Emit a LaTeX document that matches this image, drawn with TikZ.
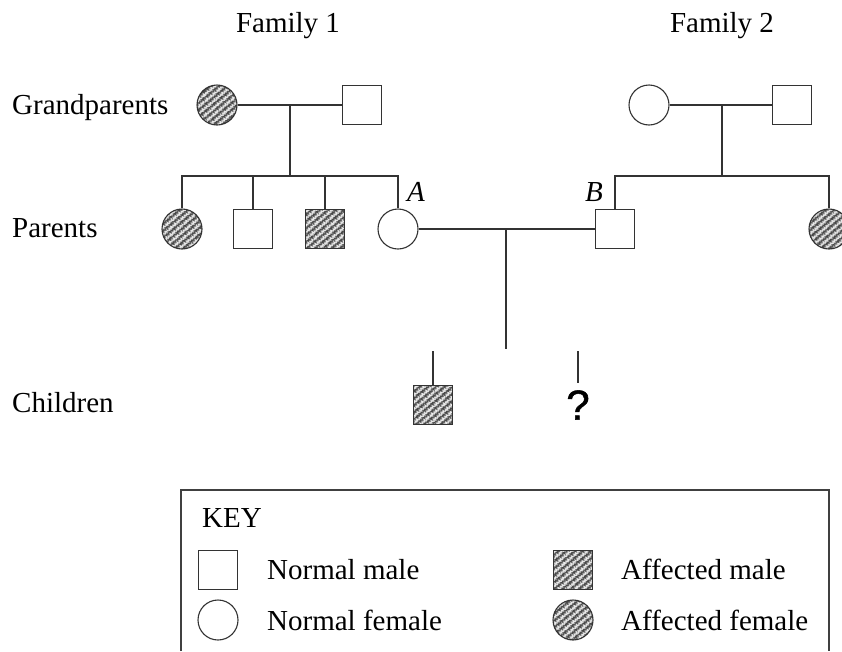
\documentclass[tikz,border=0pt]{standalone}
\usepackage{fontspec}
\setmainfont{Liberation Serif}
\newfontfamily\qfont[FakeBold=1.2]{Liberation Sans}
\usetikzlibrary{patterns.meta}

% speckled texture for affected individuals
\tikzdeclarepattern{
  name=speckle,
  type=uncolored,
  bounding box={(0,0) and (5pt,5pt)},
  tile size={(5pt,5pt)},
  tile transformation={rotate=40},
  code={
    \draw[line width=1.1pt] (0,1pt) -- (1.25pt,3.8pt) -- (2.5pt,1pt) -- (3.75pt,3.8pt) -- (5pt,1pt);
  }
}

\tikzset{
  conn/.style={draw=black!80, line width=1.3pt},
  male/.style={rectangle, draw=black!80, line width=1.1pt, minimum size=39pt, inner sep=0pt, fill=white},
  female/.style={circle, draw=black!80, line width=1.1pt, minimum size=40pt, inner sep=0pt, fill=white},
  affected/.style={preaction={fill=black!72}, pattern=speckle, pattern color=white!92!black},
  lbl/.style={font=\fontsize{29}{34}\selectfont, inner sep=0pt},
}

\begin{document}
\begin{tikzpicture}[x=1pt, y=-1pt]
\useasboundingbox (0,0) rectangle (842,651);

% generation labels
\node[lbl, anchor=base] (fam1) at (288,32) {Family 1};
\node[lbl, anchor=base] (fam2) at (722,32) {Family 2};
\node[lbl, anchor=base west] (lgp) at (12,114) {Grandparents};
\node[lbl, anchor=base west] (lpa) at (12,237) {Parents};
\node[lbl, anchor=base west] (lch) at (12,412) {Children};

% grandparents
\node[female, affected] (g1f) at (217,105) {};
\node[male] (g1m) at (362,105) {};
\node[female] (g2f) at (649,105) {};
\node[male] (g2m) at (792,105) {};

% parents
\node[female, affected] (p1) at (182,229) {};
\node[male] (p2) at (253,229) {};
\node[male, affected] (p3) at (325,229) {};
\node[female] (pA) at (398,229) {};
\node[male] (pB) at (615,229) {};
\node[female, affected] (p6) at (829,229) {};
\node[lbl, anchor=base, font=\fontsize{29}{34}\selectfont\itshape] (labA) at (416,201) {A};
\node[lbl, anchor=base, font=\fontsize{29}{34}\selectfont\itshape] (labB) at (594,201) {B};

% children
\node[male, affected] (c1) at (433,405) {};
\node[inner sep=0pt, font=\fontsize{42}{46}\qfont] (c2) at (578,405) {?};

% family 1 lines
\coordinate (m1) at (290,105);
\coordinate (s1) at (290,176);
\draw[conn] (g1f) -- (g1m);
\draw[conn] (m1) -- (s1);
\draw[conn] (p1.north) |- (s1) -| (pA.north);
\draw[conn] (p2.north) -- (p2.north |- s1);
\draw[conn] (p3.north) -- (p3.north |- s1);

% family 2 lines
\coordinate (m2) at (722,105);
\coordinate (s2) at (722,176);
\draw[conn] (g2f) -- (g2m);
\draw[conn] (m2) -- (s2);
\draw[conn] (pB.north) |- (s2) -| (p6.north);

% A x B mating and offspring
\coordinate (m3) at (506,229);
\coordinate (d3) at (506,349);
\draw[conn] (pA) -- (pB);
\draw[conn] (m3) -- (d3);
\coordinate (c1t) at (433,351);
\draw[conn] (c1t) -- (c1.north);
\coordinate (c2t) at (578,351);
\coordinate (c2b) at (578,383);
\draw[conn] (c2t) -- (c2b);

% key
\draw[draw=black!75, line width=1.1pt] (181,651) -- (181,490) -- (829,490) -- (829,651);
\node[lbl, anchor=base west] (key) at (202,527) {KEY};
\node[male] (km) at (218,570) {};
\node[female] (kf) at (218,620) {};
\node[male, affected] (kam) at (573,570) {};
\node[female, affected] (kaf) at (573,620) {};
\node[lbl, anchor=base west] (tkm) at (267,579) {Normal male};
\node[lbl, anchor=base west] (tkf) at (267,630) {Normal female};
\node[lbl, anchor=base west] (tkam) at (621,579) {Affected male};
\node[lbl, anchor=base west] (tkaf) at (621,630) {Affected female};
\end{tikzpicture}
\end{document}
